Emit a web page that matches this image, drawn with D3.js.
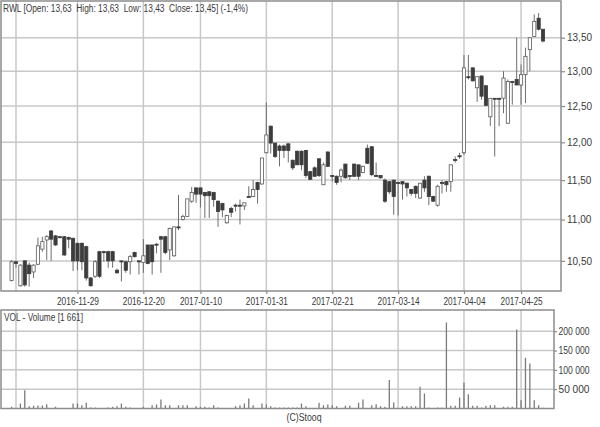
<!DOCTYPE html>
<html><head><meta charset="utf-8">
<script src="https://cdn.jsdelivr.net/npm/d3@7"></script>
<style>
body{margin:0;background:#fff;}
svg{display:block;font-family:"Liberation Sans",Arial,sans-serif;}
</style>
</head><body>
<svg id="c" width="600" height="427"></svg>
<script>
const dates = [
"2016-11-07","2016-11-08","2016-11-09","2016-11-10","2016-11-14","2016-11-15","2016-11-16","2016-11-17","2016-11-18","2016-11-21","2016-11-22","2016-11-23","2016-11-24","2016-11-25","2016-11-28","2016-11-29","2016-11-30",
"2016-12-01","2016-12-02","2016-12-05","2016-12-06","2016-12-07","2016-12-08","2016-12-09","2016-12-12","2016-12-13","2016-12-14","2016-12-15","2016-12-16","2016-12-19","2016-12-20","2016-12-21","2016-12-22","2016-12-23","2016-12-27","2016-12-28","2016-12-29","2016-12-30",
"2017-01-02","2017-01-03","2017-01-04","2017-01-05","2017-01-09","2017-01-10","2017-01-11","2017-01-12","2017-01-13","2017-01-16","2017-01-17","2017-01-18","2017-01-19","2017-01-20","2017-01-23","2017-01-24","2017-01-25","2017-01-26","2017-01-27","2017-01-30","2017-01-31",
"2017-02-01","2017-02-02","2017-02-03","2017-02-06","2017-02-07","2017-02-08","2017-02-09","2017-02-10","2017-02-13","2017-02-14","2017-02-15","2017-02-16","2017-02-17","2017-02-20","2017-02-21","2017-02-22","2017-02-23","2017-02-24","2017-02-27","2017-02-28",
"2017-03-01","2017-03-02","2017-03-03","2017-03-06","2017-03-07","2017-03-08","2017-03-09","2017-03-10","2017-03-13","2017-03-14","2017-03-15","2017-03-16","2017-03-17","2017-03-20","2017-03-21","2017-03-22","2017-03-23","2017-03-24","2017-03-27","2017-03-28","2017-03-29","2017-03-30","2017-03-31",
"2017-04-03","2017-04-04","2017-04-05","2017-04-06","2017-04-07","2017-04-10","2017-04-11","2017-04-12","2017-04-13","2017-04-18","2017-04-19","2017-04-20","2017-04-21","2017-04-24","2017-04-25","2017-04-26","2017-04-27","2017-04-28",
"2017-05-02","2017-05-04"];

const open = [10.27,10.49,10.21,10.50,10.45,10.37,10.46,10.64,10.75,10.86,10.80,10.79,10.79,10.78,10.77,10.71,10.71,10.67,10.30,10.32,
10.61,10.61,10.61,10.61,10.39,10.50,10.49,10.49,10.60,10.50,10.48,10.69,10.69,10.70,10.79,10.79,10.63,10.56,10.91,11.00,
11.04,11.23,11.40,11.40,11.34,11.35,11.34,11.23,11.20,10.96,11.14,11.18,11.18,11.17,11.29,11.29,11.47,11.45,11.86,12.22,
11.99,11.95,11.95,11.98,11.76,11.88,11.88,11.89,11.61,11.66,11.78,11.44,11.87,11.56,11.55,11.55,11.71,11.56,11.71,11.70,
11.60,11.92,11.94,11.56,11.56,11.50,11.48,11.50,11.47,11.48,11.46,11.38,11.42,11.27,11.50,11.55,11.29,11.18,11.47,11.48,
11.48,11.77,11.82,11.86,12.92,13.05,12.76,12.93,12.79,12.35,12.61,12.61,12.61,12.26,12.85,12.88,12.80,12.95,13.32,13.52,
13.80,13.63];
const high = [10.51,10.50,10.46,10.51,10.48,10.46,10.78,10.79,10.81,10.87,10.81,10.80,10.80,10.79,10.78,10.72,10.72,10.68,10.31,10.51,
10.62,10.62,10.62,10.62,10.41,10.50,10.50,10.57,10.61,10.51,10.76,10.69,10.69,10.71,10.80,10.80,10.90,10.91,11.31,11.06,
11.26,11.41,11.40,11.40,11.35,11.36,11.35,11.24,11.21,11.06,11.16,11.20,11.25,11.21,11.42,11.50,11.48,11.79,12.55,12.23,
11.99,11.97,11.97,11.98,11.77,11.89,11.89,11.90,11.62,11.68,11.78,11.73,11.88,11.56,11.56,11.65,11.71,11.56,11.71,11.70,
11.69,11.97,11.95,11.73,11.56,11.52,11.49,11.50,11.48,11.49,11.47,11.38,11.43,11.46,11.55,11.56,11.30,11.44,11.50,11.49,
11.70,11.81,11.86,13.24,13.24,13.05,12.92,12.94,12.79,12.61,12.61,12.61,13.00,12.88,12.86,13.50,13.10,13.35,13.50,13.86,
13.88,13.63];
const low = [10.26,10.42,10.20,10.20,10.20,10.30,10.45,10.61,10.51,10.50,10.68,10.77,10.56,10.65,10.38,10.39,10.39,10.27,10.20,10.30,
10.30,10.49,10.42,10.42,10.35,10.26,10.36,10.34,10.54,10.34,10.36,10.46,10.34,10.59,10.36,10.58,10.51,10.55,10.87,10.99,
11.03,11.21,11.21,11.15,11.02,11.02,11.16,10.91,11.03,10.95,11.03,11.10,10.94,11.12,11.28,11.28,11.20,11.44,11.85,11.85,
11.79,11.68,11.79,11.73,11.63,11.70,11.63,11.53,11.50,11.54,11.54,11.44,11.67,11.48,11.44,11.47,11.52,11.50,11.54,11.50,
11.59,11.71,11.55,11.55,11.52,11.21,11.32,11.06,11.05,11.25,11.29,11.30,11.27,11.26,11.35,11.18,11.22,11.16,11.33,11.35,
11.35,11.73,11.78,11.83,12.88,12.85,12.56,12.59,12.50,12.22,11.81,12.22,12.40,12.25,12.52,12.80,12.52,12.54,13.00,13.51,
13.61,13.43];
const close = [10.49,10.47,10.45,10.22,10.35,10.45,10.68,10.73,10.79,10.76,10.69,10.78,10.57,10.76,10.50,10.50,10.49,10.30,10.21,10.49,
10.32,10.60,10.50,10.50,10.36,10.49,10.39,10.55,10.55,10.49,10.56,10.47,10.49,10.69,10.76,10.60,10.89,10.91,10.90,11.04,
11.26,11.34,11.32,11.32,11.30,11.30,11.25,11.10,11.12,11.05,11.09,11.17,11.17,11.21,11.28,11.38,11.38,11.79,12.10,11.99,
11.81,11.89,11.89,11.89,11.66,11.70,11.70,11.56,11.51,11.55,11.56,11.70,11.68,11.55,11.47,11.63,11.53,11.55,11.55,11.55,
11.68,11.72,11.57,11.55,11.53,11.23,11.35,11.29,11.46,11.45,11.40,11.33,11.33,11.46,11.40,11.29,11.23,11.42,11.46,11.44,
11.70,11.76,11.81,13.05,12.91,12.86,12.92,12.64,12.51,12.61,12.60,12.60,12.90,12.85,12.84,12.80,12.95,13.22,13.50,13.75,
13.63,13.45];
const volume = [4300,500,13000,47500,6000,6900,7800,7800,11200,500,4300,300,300,300,13000,13000,8600,14700,2600,2600,
300,300,2600,4300,6000,13000,4300,2600,300,300,4300,300,8600,10400,23300,8600,8600,300,8600,8600,
8600,300,6000,4300,4300,2600,8600,2600,300,300,300,6000,8600,13000,26000,8600,300,13000,10400,6000,
2600,2600,2600,2600,2600,2600,13000,6000,300,300,14700,8600,10400,8600,6000,300,6900,6900,300,14700,
23300,300,8600,11200,6000,4300,73600,15500,300,6000,6000,6000,6000,56100,38900,2600,300,2600,2600,222800,
6900,6900,28500,66500,37100,6900,6900,2600,6900,8600,8600,300,4300,4300,4300,204600,21600,131300,116600,21600,
8600,1661];

const gridDates = ["2016-11-08","2016-11-29","2016-12-20","2017-01-10","2017-01-31","2017-02-21","2017-03-14","2017-04-04","2017-04-25"];
const dateLabels = ["2016-11-29","2016-12-20","2017-01-10","2017-01-31","2017-02-21","2017-03-14","2017-04-04","2017-04-25"];
const priceTicks = [10.5,11,11.5,12,12.5,13,13.5];
const volumeTicks = [50000,100000,150000,200000];
const titleText = "RWL [Open: 13,63  High: 13,63  Low: 13,43  Close: 13,45] (-1,4%)";
const volTitle = "VOL - Volume [1 661]";
const credit = "(C)Stooq";

const svg = d3.select("#c");
const M = {l:1, r:561, t:1, b:291};
const V = {l:1, r:554, t:310, b:408.5};
const gridCol = "#c8c8c8", borderCol = "#8c8c8c", textCol = "#3a3a3a";

const x = d3.scalePoint().domain(dates).range([11.6, 11.6 + 121*4.392]);
const y = d3.scaleLog().domain([10.15, 14.07]).range([M.b, M.t]);
const yv = d3.scaleLinear().domain([0, 255000]).range([V.b, V.t]);

svg.append("rect").attr("width",600).attr("height",427).attr("fill","#fff");

const defs = svg.append("defs");
defs.append("clipPath").attr("id","cm").append("rect").attr("x",M.l).attr("y",M.t).attr("width",M.r-M.l).attr("height",M.b-M.t);
defs.append("clipPath").attr("id","cv").append("rect").attr("x",V.l).attr("y",V.t).attr("width",V.r-V.l).attr("height",V.b-V.t);

// grids main
const gm = svg.append("g");
gm.selectAll("line.v").data(gridDates).join("line")
  .attr("x1",d=>x(d)).attr("x2",d=>x(d)).attr("y1",M.t).attr("y2",M.b)
  .attr("stroke",gridCol).attr("stroke-width",1.5);
gm.selectAll("line.h").data(priceTicks).join("line")
  .attr("x1",M.l).attr("x2",M.r).attr("y1",d=>y(d)).attr("y2",d=>y(d))
  .attr("stroke",gridCol).attr("stroke-width",1.5);
// grids vol
const gv = svg.append("g");
gv.selectAll("line.v").data(gridDates).join("line")
  .attr("x1",d=>x(d)).attr("x2",d=>x(d)).attr("y1",V.t).attr("y2",V.b)
  .attr("stroke",gridCol).attr("stroke-width",1.5);
gv.selectAll("line.h").data(volumeTicks).join("line")
  .attr("x1",V.l).attr("x2",V.r).attr("y1",d=>yv(d)).attr("y2",d=>yv(d))
  .attr("stroke",gridCol).attr("stroke-width",1.5);

// candles
const idx = d3.range(dates.length);
const cg = svg.append("g").attr("clip-path","url(#cm)");
cg.selectAll("line.w").data(idx).join("line")
  .attr("x1",i=>x(dates[i])).attr("x2",i=>x(dates[i]))
  .attr("y1",i=>y(high[i])).attr("y2",i=>y(low[i]))
  .attr("stroke","#6e6e6e").attr("stroke-width",1);
const bw = 3.2;
cg.selectAll("rect.b").data(idx).join("rect")
  .attr("x",i=>x(dates[i])-bw/2)
  .attr("y",i=>y(Math.max(open[i],close[i])))
  .attr("width",bw)
  .attr("height",i=>Math.max(1, y(Math.min(open[i],close[i])) - y(Math.max(open[i],close[i]))))
  .attr("fill",i=>close[i]>=open[i] ? "#ffffff" : "#3c3c3c")
  .attr("stroke",i=>close[i]>=open[i] ? "#5a5a5a" : "#3c3c3c")
  .attr("stroke-width",0.8);

// volume bars
const vg = svg.append("g").attr("clip-path","url(#cv)");
vg.selectAll("line").data(idx).join("line")
  .attr("x1",i=>x(dates[i])).attr("x2",i=>x(dates[i]))
  .attr("y1",yv(0)).attr("y2",i=>yv(volume[i]))
  .attr("stroke","#7a7a7a").attr("stroke-width",1.3);

// borders
svg.append("rect").attr("x",M.l).attr("y",M.t).attr("width",M.r-M.l).attr("height",M.b-M.t)
  .attr("fill","none").attr("stroke",borderCol).attr("stroke-width",1.5);
svg.append("rect").attr("x",V.l).attr("y",V.t).attr("width",V.r-V.l).attr("height",V.b-V.t)
  .attr("fill","none").attr("stroke",borderCol).attr("stroke-width",1.5);

// axes
const fmtP = d => d.toFixed(2).replace(".", ",");
const fmtV = d => d3.format(",")(d).replace(/,/g, " ");
const ay = svg.append("g").attr("transform",`translate(${M.r},0)`)
  .call(d3.axisRight(y).tickValues(priceTicks).tickFormat(fmtP).tickSize(4).tickPadding(2));
const av = svg.append("g").attr("transform",`translate(${V.r},0)`)
  .call(d3.axisRight(yv).tickValues(volumeTicks).tickFormat(fmtV).tickSize(3).tickPadding(1.5));
const ax = svg.append("g").attr("transform",`translate(0,${M.b})`)
  .call(d3.axisBottom(x).tickValues(dateLabels).tickSize(3).tickPadding(4));
[ay,av,ax].forEach(a=>{
  a.select(".domain").remove();
  a.selectAll(".tick line").attr("stroke",borderCol).attr("stroke-width",1.2);
  a.selectAll("text").attr("fill",textCol).attr("font-size","10px").attr("font-family",'"Liberation Sans",Arial,sans-serif');
});
ax.selectAll("text").attr("textLength",42).attr("lengthAdjust","spacingAndGlyphs");
av.selectAll("text").attr("textLength",31).attr("lengthAdjust","spacingAndGlyphs");

// titles
svg.append("text").attr("x",3).attr("y",11.5).attr("fill",textCol).attr("font-size","10px")
  .attr("textLength",245).attr("lengthAdjust","spacingAndGlyphs").style("white-space","pre").text(titleText);
svg.append("text").attr("x",4).attr("y",320.5).attr("fill",textCol).attr("font-size","10px")
  .attr("textLength",79).attr("lengthAdjust","spacingAndGlyphs").text(volTitle);
svg.append("text").attr("x",304).attr("y",421).attr("text-anchor","middle").attr("fill",textCol).attr("font-size","10px")
  .attr("textLength",35).attr("lengthAdjust","spacingAndGlyphs").text(credit);
</script>
</body></html>
